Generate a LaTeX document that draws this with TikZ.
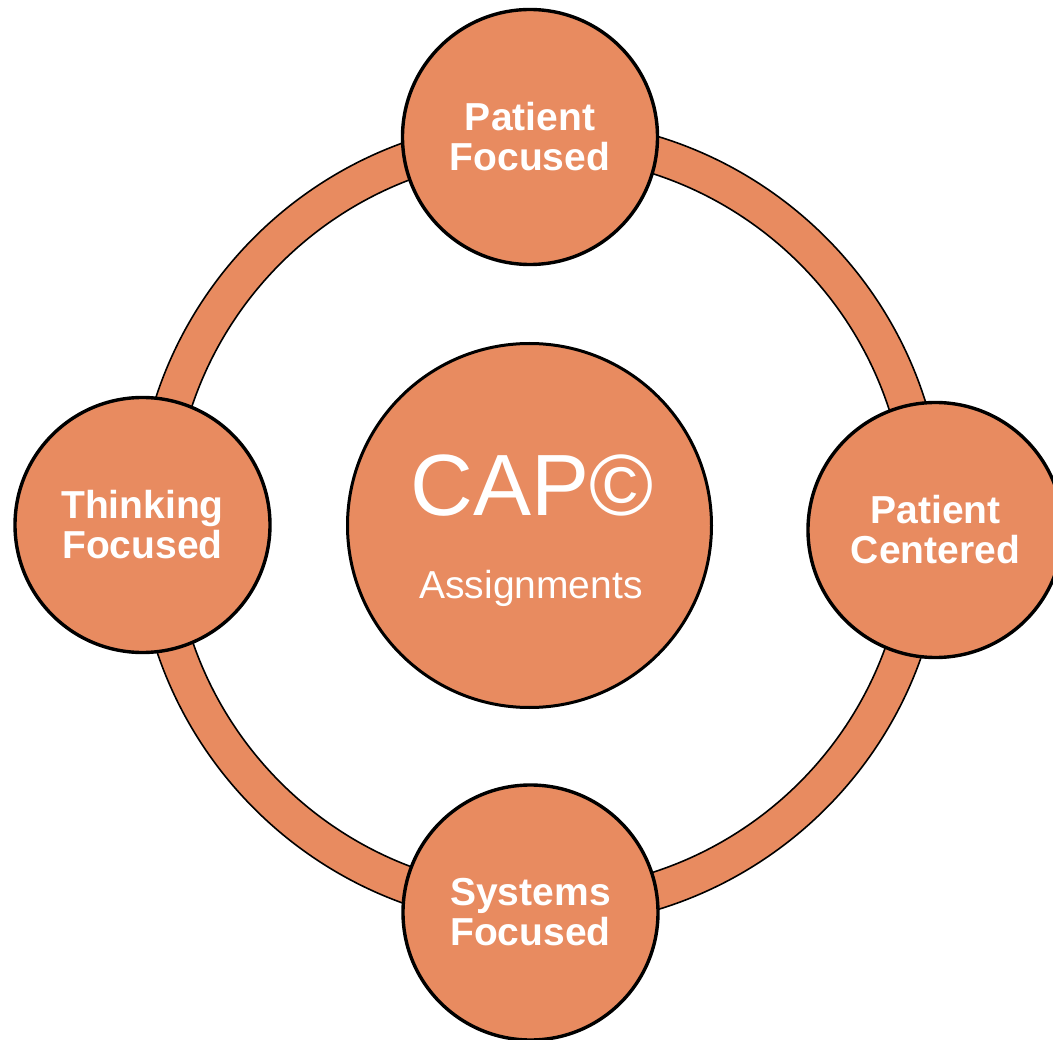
\documentclass[tikz,border=0pt]{standalone}
\usepackage{fontspec}
\setmainfont{Liberation Sans}
\definecolor{capor}{RGB}{232,139,96}
\begin{document}
\begin{tikzpicture}[x=1pt,y=-1pt,
  ringshape/.style={fill=capor,draw=black,line width=1.6pt,even odd rule},
  bub/.style={circle,fill=capor,draw=black,line width=3.4pt,minimum size=255pt,inner sep=0pt,
    text=white,font=\bfseries\fontsize{39}{40}\selectfont,align=center},
  hub/.style={circle,fill=capor,draw=black,line width=3pt,minimum size=364pt,inner sep=0pt},
  hubtext/.style={anchor=base,text=white,inner sep=0pt}
  ]
\useasboundingbox (0,0) rectangle (1053,1040);
\clip (0,0) rectangle (1053,1040);
\fill[white] (0,0) rectangle (1053,1040);
\path[ringshape] (540,523) circle[radius=404] (540,523) circle[radius=367];
\node[hub] (cap) at (529.5,525.5) {};
\node[hubtext,font=\fontsize{87}{87}\selectfont] (capt) at (532,516) {CAP©};
\node[hubtext,font=\fontsize{39}{39}\selectfont] (assign) at (531,598) {Assignments};
\node[bub] (pf) at (530,137) {Patient\\Focused};
\node[bub] (tf) at (142.5,525) {Thinking\\Focused};
\node[bub] (pc) at (935.5,530) {Patient\\Centered};
\node[bub] (sf) at (530.5,912.5) {Systems\\Focused};
\end{tikzpicture}
\end{document}
